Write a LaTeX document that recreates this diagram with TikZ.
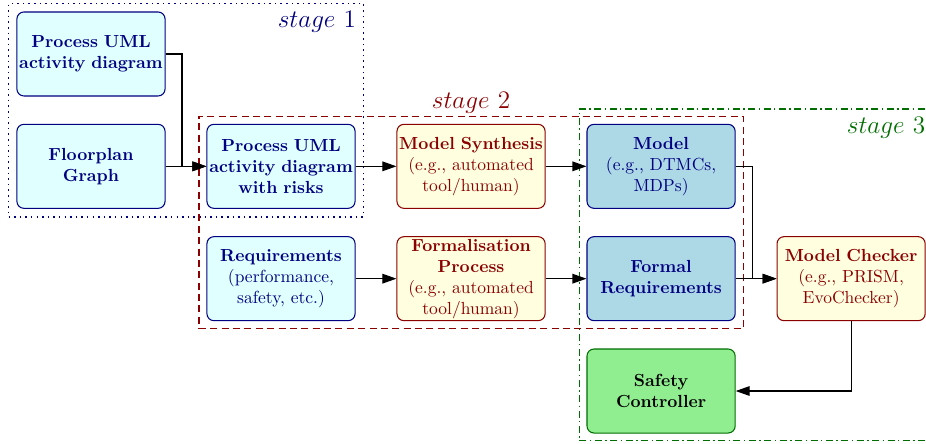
\documentclass[tikz,border=0pt]{standalone}
\usepackage{amsmath}
\usetikzlibrary{arrows.meta,fit}
\definecolor{navyblue}{RGB}{0,0,128}
\definecolor{darkred}{RGB}{139,0,0}
\definecolor{darkgreen}{RGB}{0,110,0}
\definecolor{lightcyan}{RGB}{224,255,255}
\definecolor{lightyellow}{RGB}{255,255,224}
\definecolor{lightblue}{RGB}{173,216,230}
\definecolor{lightgreen}{RGB}{144,238,144}

\begin{document}
\begin{tikzpicture}[box/.style = {draw, semithick, rounded corners=4pt, align=center, text width=2.94cm, inner sep=0.5pt, minimum width=2.972cm, minimum height=1.687cm},
inbox/.style = {box, fill=lightcyan, draw=navyblue, text=navyblue},
procbox/.style = {box, fill=lightyellow, draw=darkred, text=darkred},
modelbox/.style = {box, fill=lightblue, draw=navyblue, text=navyblue},
ctrlbox/.style = {box, fill=lightgreen, draw=darkgreen, text=black},
arr/.style = {-{Triangle[length=8pt,width=5.5pt]}, semithick},
stagelabel/.style = {font=\Large, inner sep=4.5pt},
node distance={38.16mm}]
\useasboundingbox (-1.827,1.084) rectangle (16.768,-7.812);
\node[inbox] (uml) {\textbf{Process UML}\\\textbf{activity diagram}};
\node[inbox] (floor) [below of=uml, node distance=22.56mm] {\textbf{Floorplan}\\\textbf{Graph}};
\node[inbox] (risk) [right of=floor] {\textbf{Process UML}\\\textbf{activity diagram}\\\textbf{with risks}};
\node[procbox] (synth) [right of=risk] {\textbf{Model Synthesis}\\(e.g., automated\\tool/human)};
\node[modelbox] (model) [right of=synth] {\textbf{Model}\\(e.g., DTMCs,\\MDPs)};
\node[inbox] (req) [below of=risk, node distance=22.56mm] {\textbf{Requirements}\\(performance,\\safety, etc.)};
\node[procbox] (formal) [right of=req] {\textbf{Formalisation}\\\textbf{Process}\\(e.g., automated\\tool/human)};
\node[modelbox] (freq) [right of=formal] {\textbf{Formal}\\\textbf{Requirements}};
\node[procbox] (checker) [right of=freq] {\textbf{Model Checker}\\(e.g., PRISM,\\EvoChecker)};
\node[ctrlbox] (safe) [below of=freq, node distance=22.56mm] {\textbf{Safety}\\\textbf{Controller}};
\coordinate (s3top) at ([yshift=1.6mm]model.north);
\node[draw=navyblue, line width=0.9pt, dash pattern=on 0.9pt off 2.3pt, inner sep=4.5pt, fit=(uml)(floor)(risk)] (s1) {};
\node[draw=darkred, thick, dash pattern=on 4pt off 2.5pt, inner sep=4.3pt, fit=(risk)(req)(model)(freq)] (s2) {};
\node[draw=darkgreen, thick, dash pattern=on 4pt off 2pt on 0.8pt off 2pt, inner sep=4pt, fit=(s3top)(checker)(safe)] (s3) {};
\node[stagelabel, text=navyblue, anchor=north east] (l1) at (s1.north east) {$stage$ 1};
\node[stagelabel, text=darkred, anchor=south, inner sep=1pt] (l2) at (s2.north) {$stage$ 2};
\node[stagelabel, text=darkgreen, anchor=north east] (l3) at (s3.north east) {$stage$ 3};
\draw[arr] (uml.east) -- ++(0.33,0) |- (risk.west);
\draw[arr] (floor) -- (risk);
\draw[arr] (risk) -- (synth);
\draw[arr] (synth) -- (model);
\draw[arr] (req) -- (formal);
\draw[arr] (formal) -- (freq);
\draw[arr] (model.east) -- ++(0.34,0) |- (checker.west);
\draw[arr] (freq) -- (checker);
\draw[arr] (checker.south) |- (safe.east);
\end{tikzpicture}
\end{document}
